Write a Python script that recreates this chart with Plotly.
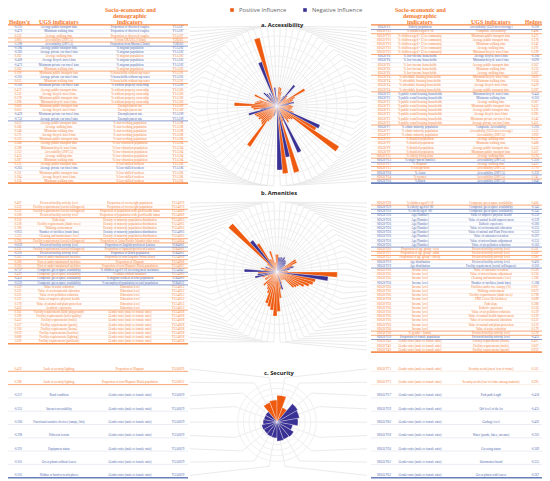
import numpy as np
import plotly.graph_objects as go

# window size and the default 8px body margin of the written page
W, H = 550, 481
OX, OY = 8, 8

BAR_POS = "#EE5B10"
BAR_NEG = "#3A3194"
TXT_POS = "#F27A32"
TXT_NEG = "#4F68AE"
HEAD = "#F4782C"
LEADER = "#DCDCDC"

# ---------------- a. Accessibility ----------------
acc_left_g = [-0.210, -0.473, 0.232, 1.805, -1.198, -0.186, -0.383, 0.262, -0.408, -0.473,
              0.262, 0.190, -0.305, 0.635, -0.100, 0.472, 0.532, 0.578, 1.096, 0.660,
              0.605, -0.429, -0.752, 0.612, 0.586, 0.548, 0.571, 0.523, 0.566, 0.598,
              1.252, 0.452, 0.387, 0.312, -0.265, 0.211, 0.184, 0.156]
acc_left_ugs = [
    "Average public transport time", "Minimum walking time", "Average walking time",
    "Accessibility (2SFCA)", "Accessibility (2SFCA)", "Average public transport time",
    "Average private car travel time", "Average walking time", "Average bicycle travel time",
    "Minimum private car travel time", "Minimum walking time", "Minimum public transport time",
    "Average private car travel time", "Minimum walking time", "Minimum private car travel time",
    "Average public transport time", "Average bicycle travel time", "Minimum public transport time",
    "Minimum bicycle travel time", "Minimum public transport time", "Average bicycle travel time",
    "Minimum private car travel time", "Average private car travel time", "Average public transport time",
    "Average walking time", "Minimum walking time", "Average bicycle travel time",
    "Minimum public transport time", "Average public transport time", "Minimum bicycle travel time",
    "Accessibility (2SFCA)", "Average walking time", "Minimum walking time",
    "Average public transport time", "Average private car travel time", "Minimum public transport time",
    "Average bicycle travel time", "Minimum walking time"]
acc_left_socio = (["Proportion of divorced couples"] * 3 + ["% from UK/USA (China)"]
                  + ["Proportion from Macau (China)"] + ["% migrant population"] * 6
                  + ["% households without tap water"] * 3 + ["% without property ownership"] * 5
                  + ["Unemployment rate"] * 4 + ["% non-working population"] * 5
                  + ["% low-education population"] * 5 + ["% low-skilled workers"] * 5)
acc_left_code = (["Y1A5S7"] * 3 + ["Y2B5S3"] * 2 + ["Y1A5S2"] * 6 + ["Y1A5S1"] * 3
                 + ["Y1A5S0"] * 5 + ["Y1A5S9"] * 4 + ["Y1A5S8"] * 5 + ["Y1A5S4"] * 5
                 + ["Y1A5S6"] * 5)

acc_right_g = [-0.209, 0.488, 0.471, 0.378, 0.242, 0.191, 0.199, -0.306, -0.690, 0.367,
               0.312, 0.267, 0.820, 0.504, 0.439, 0.397, -0.443, -0.303, 0.367, 0.412,
               0.391, 0.385, 0.342, 0.451, -1.205, 1.152, 1.902, 0.512, 0.468, 0.433,
               0.507, 0.376, -1.310, 0.422, 1.770, -1.332, 1.741, -1.640]
acc_right_ugs = [
    "Accessibility (UGS area coverage)", "Composite Accessibility", "Minimum public transport time",
    "Average public transport time", "Minimum walking time", "Average walking time",
    "Minimum bicycle travel time", "Average bicycle travel time", "Minimum bicycle travel time",
    "Average public transport time", "Minimum walking time", "Average walking time",
    "Minimum bicycle travel time", "Minimum walking time", "Average bicycle travel time",
    "Average public transport time", "Minimum bicycle travel time", "Minimum walking time",
    "Average walking time", "Minimum public transport time", "Average public transport time",
    "Average bicycle travel time", "Minimum private car travel time", "Average private car travel time",
    "Composite Accessibility", "Accessibility (UGS area coverage)", "Accessibility (2SFCA)",
    "Average walking time", "Minimum walking time", "Average public transport time",
    "Minimum public transport time", "Average walking time", "Accessibility (2SFCA)",
    "Average walking time", "Accessibility (2SFCA)", "Accessibility (2SFCA)",
    "Accessibility (2SFCA)", "Accessibility (2SFCA)"]
acc_right_socio = (["Elderly population", "% children aged 0-18"]
                   + ["% children aged <12 in community"] * 5 + ["% low-income households"] * 5
                   + ["% affordable housing households"] * 4
                   + ["% public rental housing households"] * 8
                   + ["% ethnic minority population"] * 3 + ["% disabled population"] * 4
                   + ["% elderly living alone", "% single-parent families", "% Hispanic",
                      "% foreign-born", "% Asian", "% women", "% Black"])
acc_right_code = (["SDG8/Y2", "SDG8/Y12"] + ["SDG8/Y10"] * 5 + ["SDG8/Y6"] * 5
                  + ["SDG8/Y4"] * 4 + ["SDG8/Y3"] * 8 + ["SDG8/Y7"] * 3 + ["SDG8/Y9"] * 4
                  + ["SDG8/Y11", "SDG8/Y13", "SDG8/Y17", "SDG8/Y15", "SDG8/Y18", "SDG8/Y14",
                     "SDG8/Y16"])

# ---------------- b. Amenities ----------------
ame_left_g = [0.407, 0.222, 0.232, 0.508, 0.316, 0.338, 0.780, -0.925, 1.522, 0.290,
              -0.029, 0.221, -0.291, 0.261, 0.380, 0.305, -0.757, 0.439, -0.451, -0.520,
              0.359, 0.231, 0.321, 0.321, 0.178, 0.432, 0.362, 0.390, 0.452, 0.527,
              0.760, 0.819, 0.888, 1.020]
ame_left_ugs = [
    "Preferred facility activity level", "Facility requirements (social willingness)",
    "Facility requirements (social willingness)", "Preferred facility activity level",
    "Path slope", "Facility requirements (shade trees)", "Walking environment",
    "Number of facilities (trash bins)", "Cleaning and maintenance level",
    "Facility requirements (social willingness)", "Preferred facility activity level",
    "Facility requirements (social willingness)", "Preferred facility activity level",
    "Poor or under-maintained facilities", "Poor or under-maintained facilities",
    "Poor or under-maintained facilities", "Composite green space availability",
    "Composite green space availability", "Composite green space availability",
    "Composite green space availability", "Value of noise reduction",
    "Value of environmental education", "Value of air pollution reduction",
    "Value of improve physical health", "Value of animal and plant protection",
    "Aesthetic experience", "Facility requirements (kids' playground)",
    "Facility requirements (toilet quality)", "Facility requirements (trails)",
    "Facility requirements (sports)", "Facility requirements (lawns)",
    "Facility requirements (benches)", "Facility requirements (lighting)",
    "Facility requirements (pavilions)"]
ame_left_socio = (["Proportion of overweight population"] * 2
                  + ["Proportion of population with good health status"] * 2
                  + ["Density of minority population distribution"] * 5
                  + ["Proportion of Asian/Pacific Islander/other races",
                     "Proportion of English-proficient Latinos",
                     "Proportion of Spanish-proficient Latinos",
                     "Proportion of Black population",
                     "Proportion of non-Hispanic White/Black",
                     "Proportion of Hispanic",
                     "Proportion of non-Hispanic Black population",
                     "% children aged 0-18 receiving meal assistance",
                     "% adults without insurance",
                     "% migrant workers in total population",
                     "% unemployed population in total population"]
                  + ["Education level"] * 6 + ["Gender ratio (male to female ratio)"] * 8)
ame_left_code = (["Y2A4S70"] * 2 + ["Y2A4S69"] * 2 + ["Y3A4S05"] * 5
                 + ["Y2A4S64", "Y2B4S02", "Y2B4S03", "Y2B4S01", "Y2A4S09", "Y2A4S08",
                    "Y2A4S07", "Y2A4S47", "Y2A4S05", "Y2B4S09", "Y2B4S10"]
                 + ["Y2A4S12"] * 6 + ["Y2A4S28"] * 8)

ame_right_g = [0.406, -0.345, -0.345, -0.359, -0.339, -0.380, -0.325, -0.323, -0.297, -0.253,
               -0.163, 0.511, 0.509, 0.380, -0.403, -0.303, 0.228, 0.256, 1.396, -1.188,
               0.907, 0.872, 0.798, 0.698, 0.588, 0.556, 0.519, 0.239, 0.222, 0.219,
               0.179, 0.278, -0.425, 0.407, 0.607, 0.912]
ame_right_ugs = (["Composite green space availability"] * 3
                 + ["Value of improve physical health", "Value of animal health improvement",
                    "Esthetic experience", "Value of environmental education",
                    "Value of animal and Plant Protection", "Value of rainwater retention",
                    "Value of microclimate adjustment", "Value of air pollution reduction"]
                 + ["Preferred facility activity level"] * 4
                 + ["Facility requirement (social willingness)",
                    "Value of rainwater retention", "Value of microclimate adjustment",
                    "Cleaning and maintenance level", "Number of facilities (trash bins)",
                    "Facilities under tree canopy (%)", "Walking environment",
                    "Facility requirements (shade trees)", "PM2.5 level (O facilities)",
                    "Path slope", "Esthetic experience", "Value of air pollution reduction",
                    "Value of animal health improvement", "Value of environmental education",
                    "Value of animal and plant protection", "Value of noise reduction",
                    "Preferred facility activity level", "Preferred facility activity level",
                    "Facility requirements (lawns)", "Facility requirements (trails)",
                    "Facility requirements (sports)"])
ame_right_socio = (["% children aged 0-18", "% elderly aged 61-80", "% elderly aged >80"]
                   + ["Age(Number)"] * 8
                   + ["Proportion of age group - teen", "Proportion of age group - adult",
                      "Proportion of age group - elderly"]
                   + ["Age distribution"] * 2 + ["Income level"] * 15
                   + ["% gender - female", "Proportion of female population"]
                   + ["Gender ratio (male to female ratio)"] * 3)
ame_right_code = (["SDG8/Y28", "SDG8/Y29", "SDG8/Y30"] + ["SDG8/Y26"] * 8
                  + ["SDG8/Y20", "SDG8/Y21", "SDG8/Y22"] + ["SDG8/Y19"] * 2
                  + ["SDG8/Y36"] * 15 + ["SDG8/Y38", "SDG8/Y39"] + ["SDG8/Y40"] * 3)

# ---------------- c. Security ----------------
sec_left_g = [0.422, 0.398, -0.257, -0.253, -0.266, -0.298, -0.291, -0.301, -0.305]
sec_left_ugs = ["Lack of security/lighting", "Lack of security/lighting", "Road condition",
                "Internet accessibility", "Functional assistive devices (ramps, lifts)",
                "Different terrain", "Equipment status", "Green plants without leaves",
                "Hidden or hard-to-reach places"]
sec_left_socio = (["Proportion of Hispanic", "Proportion of non-Hispanic Black population"]
                  + ["Gender ratio (male to female ratio)"] * 7)
sec_left_code = ["Y3A6S29", "Y3A6S31"] + ["Y3A6S29"] * 7

sec_right_g = [0.511, 0.295, -0.458, -0.435, -0.402, -0.305, -0.369, -0.355, -0.367]
sec_right_ugs = ["Security needs (users' fear of crime)",
                 "Security needs (fear of crime among students)", "Park path length",
                 "Off-level of the lot", "Garbage level", "Water (ponds, lakes, streams)",
                 "Greening status", "Information board", "Green plants with leaves"]
sec_right_socio = ["Gender ratio (male to female ratio)"] * 9
sec_right_code = ["SDG6/Y71", "SDG6/Y72", "SDG6/Y57", "SDG6/Y59", "SDG6/Y60", "SDG6/Y58",
                  "SDG6/Y56", "SDG6/Y61", "SDG6/Y62"]

legend_names = ["Positive Influence", "Negative Influence"]

panels = [
    dict(name="polar", title="a. Accessibility", cx=277, cy=106, R=80, rmax=2.05,
         title_x=282, title_y=25, y0=27.5, dy=4.15,
         left=(acc_left_g, acc_left_ugs, acc_left_socio, acc_left_code),
         right=(acc_right_g, acc_right_ugs, acc_right_socio, acc_right_code)),
    dict(name="polar2", title="b. Amenities", cx=277, cy=272, R=70, rmax=1.62,
         title_x=279, title_y=193, y0=203, dy=4.2,
         left=(ame_left_g, ame_left_ugs, ame_left_socio, ame_left_code),
         right=(ame_right_g, ame_right_ugs, ame_right_socio, ame_right_code)),
    dict(name="polar3", title="c. Security", cx=277, cy=422, R=45, rmax=0.86,
         title_x=279, title_y=373, y0=369, dy=13.3,
         left=(sec_left_g, sec_left_ugs, sec_left_socio, sec_left_code),
         right=(sec_right_g, sec_right_ugs, sec_right_socio, sec_right_code)),
]

LEFT_COLS = [18, 59, 130, 178]
RIGHT_COLS = [535, 491, 420, 384]
LEFT_SPAN = (2, 188)
RIGHT_SPAN = (371, 548)
LEFT_EDGE = 190
RIGHT_EDGE = 367

FW, FH = W - OX, H - OY

fig = go.Figure()
segments = {}


def add_seg(color, width, x0, x1, y0, y1):
    xs, ys = segments.setdefault((color, width), ([], []))
    xs.extend([x0, x1, None])
    ys.extend([y0, y1, None])


def rgba(hex_color, a):
    h = hex_color.lstrip("#")
    return f"rgba({int(h[0:2], 16)},{int(h[2:4], 16)},{int(h[4:6], 16)},{a})"


leader_x, leader_y = [], []

for p in panels:
    pos_t, pos_r, pos_w, neg_t, neg_r, neg_w, ticks = [], [], [], [], [], [], []
    for side in ("left", "right"):
        g, ugs, socio, code = p[side]
        n = len(g)
        ys = [p["y0"] + i * p["dy"] for i in range(n)]
        colors = [TXT_POS if v > 0 else TXT_NEG for v in g]
        cols = LEFT_COLS if side == "left" else RIGHT_COLS
        span = LEFT_SPAN if side == "left" else RIGHT_SPAN
        edge = LEFT_EDGE if side == "left" else RIGHT_EDGE
        texts = [[f"{v:.3f}" for v in g], ugs, socio, code]
        for xpos, txt in zip(cols, texts):
            fig.add_trace(go.Scatter(
                x=[xpos] * n, y=ys, mode="text", text=txt, cliponaxis=False,
                textfont=dict(family="Liberation Serif", size=3.1, color=colors),
                hoverinfo="skip", showlegend=False))
        off = min(p["dy"] * 0.5, 2.3)
        for i in range(n):
            c = colors[i]
            yl = ys[i] + off
            if i == n - 1:
                add_seg(rgba(c, 0.85), 1.6, span[0], span[1], yl, yl)
            elif socio[i] != socio[i + 1]:
                add_seg(rgba(c, 0.75), 0.9, span[0], span[1], yl, yl)
            else:
                add_seg(rgba(c, 0.3), 0.4, span[0], span[1], yl, yl)
        width = 180.0 / n
        for i, v in enumerate(g):
            th = (i + 0.5) * width if side == "right" else 360 - (i + 0.5) * width
            ticks.append(th)
            rad = np.deg2rad(th)
            leader_x.extend([edge, p["cx"] + p["R"] * np.sin(rad), None])
            leader_y.extend([ys[i], p["cy"] - p["R"] * np.cos(rad), None])
            if v > 0:
                pos_t.append(th); pos_r.append(v); pos_w.append(width)
            else:
                neg_t.append(th); neg_r.append(-v); neg_w.append(width)
    fig.add_trace(go.Barpolar(r=pos_r, theta=pos_t, width=pos_w, subplot=p["name"],
                              marker=dict(color=BAR_POS, line=dict(width=0.3, color="white")),
                              name=legend_names[0], showlegend=False, hoverinfo="skip"))
    fig.add_trace(go.Barpolar(r=neg_r, theta=neg_t, width=neg_w, subplot=p["name"],
                              marker=dict(color=BAR_NEG, line=dict(width=0.3, color="white")),
                              name=legend_names[1], showlegend=False, hoverinfo="skip"))
    cx, cy, R = p["cx"], p["cy"], p["R"]
    fig.update_layout({p["name"]: dict(
        domain=dict(x=[(cx - R - OX) / FW, (cx + R - OX) / FW],
                    y=[1 - (cy + R - OY) / FH, 1 - (cy - R - OY) / FH]),
        bgcolor="rgba(0,0,0,0)",
        radialaxis=dict(range=[0, p["rmax"]], showticklabels=False, ticks="", showline=False,
                        gridcolor="#F1F1F1", gridwidth=0.5, dtick=p["rmax"] / 8),
        angularaxis=dict(direction="clockwise", rotation=90, thetaunit="degrees",
                         tickmode="array", tickvals=ticks, showticklabels=False, ticks="",
                         showline=False, gridcolor="#ECECEC", gridwidth=0.5),
    )})
    fig.add_annotation(x=p["title_x"], y=p["title_y"], xref="x", yref="y", showarrow=False,
                       text=f"<b>{p['title']}</b>",
                       font=dict(family="Open Sans", size=5.8, color="#222222"))

fig.add_trace(go.Scatter(x=leader_x, y=leader_y, mode="lines",
                         line=dict(color=LEADER, width=0.6),
                         hoverinfo="skip", showlegend=False))

# header underline
add_seg(rgba(HEAD, 0.9), 1.2, LEFT_SPAN[0], LEFT_SPAN[1], 24.8, 24.8)
add_seg(rgba(HEAD, 0.9), 1.2, RIGHT_SPAN[0], RIGHT_SPAN[1], 24.8, 24.8)

for (color, width), (xs, ys) in segments.items():
    fig.add_trace(go.Scatter(x=xs, y=ys, mode="lines", line=dict(color=color, width=width),
                             hoverinfo="skip", showlegend=False))

# legend drawn as small squares with labels, placed as in the source figure
LEG_Y = 10.0
for x, name, color in [(232, legend_names[0], BAR_POS), (305, legend_names[1], BAR_NEG)]:
    fig.add_shape(type="rect", xref="x", yref="y", x0=x - 1.8, x1=x + 1.8,
                  y0=LEG_Y - 1.8, y1=LEG_Y + 1.8, fillcolor=color, line=dict(width=0))
    fig.add_annotation(x=(x + 5 - OX) / FW, y=1 - (LEG_Y - OY) / FH, xref="paper", yref="paper",
                       xanchor="left", yanchor="middle", showarrow=False, text=name,
                       font=dict(family="Open Sans", size=5.8, color="#666666"))

head_font = dict(family="Liberation Serif", size=6.0, color=HEAD)
head_lines = ["Socio-economic and", "demographic", "indicators"]
for hx in (130, 420):
    for txt, hy in zip(head_lines, (10.2, 16.3, 22.2)):
        fig.add_annotation(x=hx, y=hy, xref="x", yref="y", text=f"<b>{txt}</b>",
                           showarrow=False, font=head_font)
for hx in (59, 491):
    fig.add_annotation(x=hx, y=21.8, xref="x", yref="y", text="<b>UGS indicators</b>",
                       showarrow=False, font=head_font)
for hx in (19, 535):
    fig.add_annotation(x=hx, y=22, xref="x", yref="y", text="<b>Hedges'g</b>",
                       showarrow=False, font=dict(family="Liberation Serif", size=5.4, color=HEAD))

fig.update_layout(
    width=FW, height=FH,
    margin=dict(l=0, r=0, t=0, b=0),
    paper_bgcolor="white", plot_bgcolor="rgba(0,0,0,0)",
    showlegend=False,
    xaxis=dict(range=[OX, W], visible=False, domain=[0, 1], fixedrange=True),
    yaxis=dict(range=[H, OY], visible=False, domain=[0, 1], fixedrange=True),
)

fig.write_html("out.html")
